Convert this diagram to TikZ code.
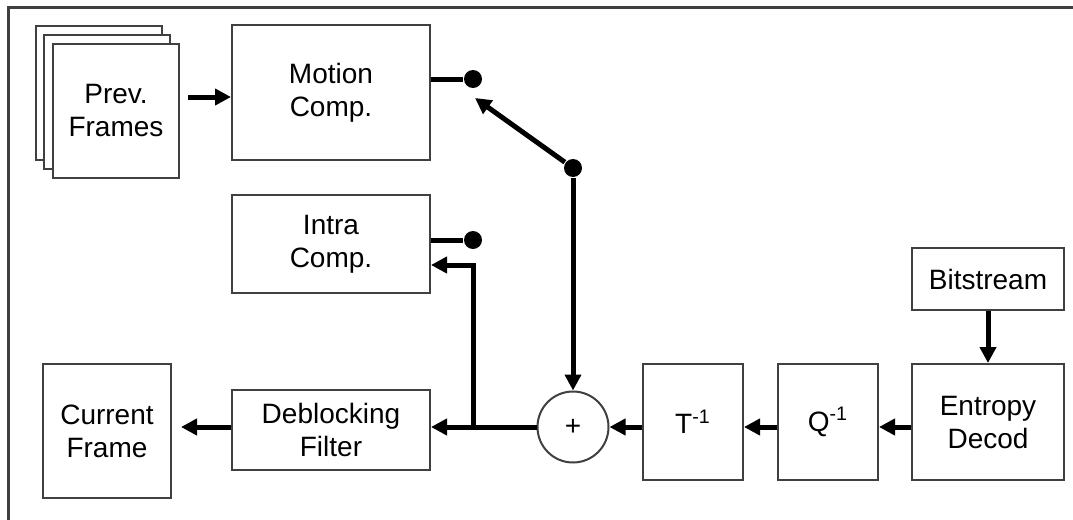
\documentclass[tikz,border=0pt]{standalone}
\usepackage{fontspec}
\setmainfont{Liberation Sans}
\usetikzlibrary{arrows.meta, positioning, calc}
\definecolor{cline}{HTML}{404040}
\tikzset{
  every picture/.style={font=\fontsize{14}{16.5}\selectfont, line width=1pt},
  box/.style={draw=cline, fill=white, align=center, inner sep=2pt},
  arrow/.style={-{Triangle[length=8pt, width=8pt]}, draw=black, line width=2.5pt},
  wire/.style={draw=black, line width=2.5pt},
  dot/.style={circle, fill=black, inner sep=0pt, minimum size=9pt},
  frame/.style={draw=cline, line width=1.5pt},
}

\begin{document}
\begin{tikzpicture}[x=0.5pt, y=-0.5pt]
  \useasboundingbox (0,0) rectangle (1073,520);
  \draw[frame] (8,520) -- (8,7) -- (1073,7);
  % previous frames (stack)
  \node[box, minimum width=63pt, minimum height=67pt] (pf3) at (98.5,93) {};
  \node[box, minimum width=63pt, minimum height=67pt] (pf2) at (107,101.5) {};
  \node[box, minimum width=63pt, minimum height=67pt] (pf) at (116,110.5) {Prev.\\Frames};
  \node[box, minimum width=99pt, minimum height=67.5pt] (mc) at (331,92.5) {Motion\\Comp.};
  \node[box, minimum width=99pt, minimum height=49pt] (intra) at (331,244) {Intra\\Comp.};
  \node[box, minimum width=99pt, minimum height=40pt] (dbf) at (331,430) {Deblocking\\Filter};
  \node[box, minimum width=64pt, minimum height=67pt] (cf) at (107,431) {Current\\Frame};
  \node[draw=cline, circle, minimum size=35.5pt, inner sep=0pt] (plus) at (573,427) {+};
  \node[box, minimum width=50pt, minimum height=58pt] (tinv) at (693,422) {T\textsuperscript{-1}};
  \node[box, minimum width=50pt, minimum height=58pt] (qinv) at (828,422) {Q\textsuperscript{-1}};
  \node[box, minimum width=76pt, minimum height=58pt] (ed) at (988,422) {Entropy\\Decod};
  \node[box, minimum width=76pt, minimum height=31pt] (bs) at (988,279) {Bitstream};
  % switch
  \node[dot] (mcout) at (473,79) {};
  \node[dot] (intraout) at (473,240) {};
  \node[dot] (sw) at (573,168) {};
  \coordinate (swtip) at (475,98);
  \coordinate (br) at (473,427);
  \coordinate (pfout) at (188,97);
  % connectors
  \draw[arrow] (pfout) -- (mc.west |- pfout);
  \draw[wire] (mc.east |- mcout) -- (mcout);
  \draw[wire] (intra.east |- intraout) -- (intraout);
  \draw[arrow] (sw) -- (swtip);
  \draw[arrow] (sw) -- (plus);
  \draw[arrow] (bs) -- (ed);
  \draw[arrow] (ed.west |- plus) -- (qinv.east |- plus);
  \draw[arrow] (qinv.west |- plus) -- (tinv.east |- plus);
  \draw[arrow] (tinv.west |- plus) -- (plus);
  \draw[arrow] (plus) -- (dbf.east |- plus);
  \draw[arrow] (br) |- ($(intra.east)+(0,21)$);
  \draw[arrow, shorten >=4.5pt] (dbf.west |- plus) -- (cf.east |- plus);
\end{tikzpicture}
\end{document}
